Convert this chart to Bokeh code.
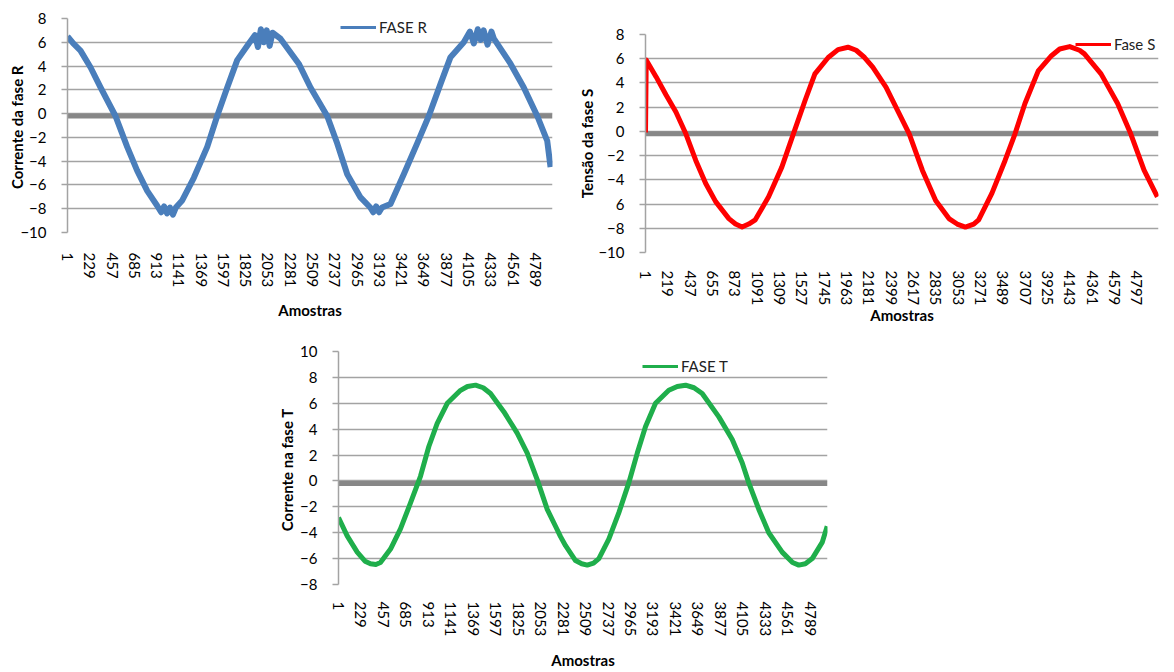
from bokeh.plotting import figure
from bokeh.layouts import column, row
from bokeh.models import Spacer, FixedTicker, Legend, LegendItem, Range1d
from bokeh.embed import file_html
from bokeh.resources import INLINE

FONT = "Lato"

# ---------------- data ----------------
# Fase R (corrente) - amostra, valor
r_x = [1, 60, 134, 236, 339, 492, 612, 714, 817, 919, 960, 990, 1020, 1050,
       1080, 1110, 1175, 1294, 1431, 1533, 1636, 1738, 1857, 1920, 1950, 1980,
       2010, 2040, 2070, 2100, 2181, 2368, 2488, 2659, 2761, 2864, 3000, 3100,
       3130, 3160, 3190, 3220, 3307, 3443, 3580, 3699, 3819, 3921, 4057, 4120,
       4160, 4200, 4230, 4260, 4300, 4340, 4365, 4535, 4671, 4809, 4911, 4945]
r_y = [6.5, 5.9, 5.3, 3.9, 2.2, -0.2, -2.8, -4.8, -6.5, -7.75, -8.3, -7.8, -8.4, -7.9,
       -8.5, -7.9, -7.3, -5.4, -2.8, -0.2, 2.2, 4.5, 5.9, 6.6, 5.6, 7.1,
       6.0, 7.0, 5.7, 6.8, 6.3, 4.2, 2.2, -0.2, -2.5, -5.1, -7.05, -7.9,
       -8.3, -7.8, -8.3, -7.9, -7.6, -5.1, -2.5, -0.2, 2.5, 4.75, 6.0, 6.9,
       5.9, 7.1, 6.2, 7.0, 5.8, 6.9, 6.3, 4.2, 2.2, -0.2, -2.3, -4.5]

# Fase S (tensao)
s_x = [1, 8, 105, 202, 298, 395, 492, 589, 686, 815, 880, 944, 1009, 1073, 1203,
       1332, 1445, 1559, 1655, 1785, 1881, 1978, 2058, 2140, 2220, 2349, 2479,
       2576, 2704, 2834, 2964, 3044, 3124, 3206, 3254, 3384, 3512, 3609, 3706,
       3836, 3965, 4045, 4143, 4239, 4287, 4449, 4611, 4739, 4869, 4999]
s_y = [-0.1, 5.9, 4.5, 3.0, 1.6, -0.2, -2.4, -4.3, -5.8, -7.2, -7.65, -7.9, -7.65, -7.3, -5.4,
       -2.95, -0.2, 2.55, 4.75, 6.1, 6.75, 6.95, 6.7, 6.1, 5.3, 3.65, 1.45,
       -0.2, -3.2, -5.7, -7.2, -7.65, -7.9, -7.65, -7.3, -5.1, -2.4, -0.2, 2.3,
       5.0, 6.25, 6.8, 7.0, 6.7, 6.4, 4.75, 2.3, -0.2, -3.2, -5.4]

# Fase T (corrente)
t_x = [1, 89, 191, 270, 326, 380, 427, 529, 630, 732, 833, 918, 1003, 1105, 1240,
       1310, 1392, 1470, 1544, 1679, 1815, 1917, 2018, 2120, 2204, 2255, 2306,
       2407, 2470, 2526, 2590, 2644, 2745, 2847, 2948, 3034, 3118, 3219, 3354,
       3440, 3524, 3610, 3693, 3862, 3998, 4099, 4166, 4268, 4369, 4505, 4610,
       4674, 4740, 4810, 4911, 4962]
t_y = [-2.83, -4.24, -5.5, -6.2, -6.4, -6.45, -6.3, -5.26, -3.7, -1.7, 0.36, 2.66, 4.45, 6.0, 7.0,
       7.3, 7.4, 7.2, 6.75, 5.35, 3.7, 2.15, 0.1, -2.2, -3.5, -4.3, -5.0,
       -6.15, -6.4, -6.5, -6.35, -6.0, -4.5, -2.45, -0.15, 2.15, 4.2, 6.0, 7.0,
       7.3, 7.4, 7.2, 6.75, 4.95, 3.2, 1.4, -0.15, -2.2, -4.0, -5.5, -6.3,
       -6.5, -6.4, -6.0, -4.75, -3.5]

# second (gray) series: constant level
zero_level = -0.2

r_n_samples = 4965
s_n_samples = 5010
t_n_samples = 4965

r_tick_labels = ["1", "229", "457", "685", "913", "1141", "1369", "1597", "1825",
                 "2053", "2281", "2509", "2737", "2965", "3193", "3421", "3649",
                 "3877", "4105", "4333", "4561", "4789"]
s_tick_labels = ["1", "219", "437", "655", "873", "1091", "1309", "1527", "1745",
                 "1963", "2181", "2399", "2617", "2835", "3053", "3271", "3489",
                 "3707", "3925", "4143", "4361", "4579", "4797"]
t_tick_labels = r_tick_labels

GRID = "#a3a3a3"
ZERO = "#878787"


def make_chart(xs, ys, n, color, lw, ylo, yhi, tick_labels, ylabel, leg_label,
               w, h, bl, br, bt, bb, leg_loc, lab_standoff, title_standoff,
               ytitle_standoff, y_overrides=None):
    p = figure(width=w, height=h, x_range=Range1d(1, n), y_range=Range1d(ylo, yhi),
               output_backend="svg", toolbar_location=None,
               min_border_left=bl, min_border_right=br,
               min_border_top=bt, min_border_bottom=bb)
    p.outline_line_color = None
    p.xgrid.visible = False
    p.ygrid.grid_line_color = GRID
    p.ygrid.grid_line_width = 1.5

    p.yaxis.ticker = FixedTicker(ticks=list(range(ylo, yhi + 1, 2)))
    p.yaxis.axis_line_color = GRID
    p.yaxis.axis_line_width = 1.5
    p.yaxis.major_tick_line_color = GRID
    p.yaxis.major_tick_line_width = 1.5
    p.yaxis.major_tick_out = 6
    p.yaxis.major_tick_in = 0
    p.yaxis.minor_tick_line_color = None
    p.yaxis.major_label_standoff = 15
    p.yaxis.major_label_text_font = FONT
    p.yaxis.major_label_text_font_size = "15px"
    p.yaxis.major_label_text_color = "#000000"
    if y_overrides:
        p.yaxis.major_label_overrides = y_overrides
    p.yaxis.axis_label = ylabel
    p.yaxis.axis_label_text_font = FONT
    p.yaxis.axis_label_text_font_style = "bold"
    p.yaxis.axis_label_text_font_size = "15px"
    p.yaxis.axis_label_text_color = "#000000"
    p.yaxis.axis_label_standoff = ytitle_standoff

    ticks = [int(t) for t in tick_labels]
    p.xaxis.ticker = FixedTicker(ticks=ticks)
    p.xaxis.major_label_overrides = {t: lab for t, lab in zip(ticks, tick_labels)}
    p.xaxis.major_label_orientation = "vertical"
    p.xaxis.axis_line_color = None
    p.xaxis.major_tick_line_color = None
    p.xaxis.minor_tick_line_color = None
    p.xaxis.major_tick_out = 0
    p.xaxis.major_tick_in = 0
    p.xaxis.major_label_standoff = lab_standoff
    p.xaxis.major_label_text_font = FONT
    p.xaxis.major_label_text_font_size = "15px"
    p.xaxis.major_label_text_color = "#000000"
    p.xaxis.axis_label = "Amostras"
    p.xaxis.axis_label_text_font = FONT
    p.xaxis.axis_label_text_font_style = "bold"
    p.xaxis.axis_label_text_font_size = "15px"
    p.xaxis.axis_label_text_color = "#000000"
    p.xaxis.axis_label_standoff = title_standoff

    p.line([1, n], [zero_level, zero_level], line_color=ZERO, line_width=5)
    p.line(xs, ys, line_color=color, line_width=lw, line_join="round")
    # legend key: single-point line (draws nothing in the plot, thinner key)
    key = p.line(xs[:1], ys[:1], line_color=color, line_width=3)

    leg = Legend(items=[LegendItem(label=leg_label, renderers=[key])],
                 location=leg_loc, orientation="horizontal",
                 border_line_color=None, background_fill_alpha=0,
                 padding=0, margin=0, spacing=0,
                 glyph_width=36, glyph_height=14, label_height=14,
                 label_standoff=3, label_text_font=FONT,
                 label_text_font_size="15px", label_text_color="#222222")
    p.add_layout(leg)
    return p


pR = make_chart(r_x, r_y, r_n_samples, "#4a7ebb", 6, -10, 8, r_tick_labels,
                "Corrente da fase  R", "FASE R",
                575, 335, 67, 23, 18, 103, (273, 196), 20, 11, -9)
pS = make_chart(s_x, s_y, s_n_samples, "#ff0000", 5, -10, 8, s_tick_labels,
                "Tensão da fase S", "Fase S",
                599, 319, 66, 16, 18, 83, (430, 199), 18, -2, -1,
                y_overrides={-6: "6"})
pT = make_chart(t_x, t_y, t_n_samples, "#1fae4b", 5, -8, 10, t_tick_labels,
                "Corrente na fase  T", "FASE T",
                577, 337, 68, 20, 16, 86, (304, 209), 17, 12, 1)

layout = column(
    row(column(pR), column(Spacer(width=599, height=16), pS)),
    row(Spacer(width=270, height=337), pT),
)

open("out.html", "w").write(file_html(layout, INLINE))
